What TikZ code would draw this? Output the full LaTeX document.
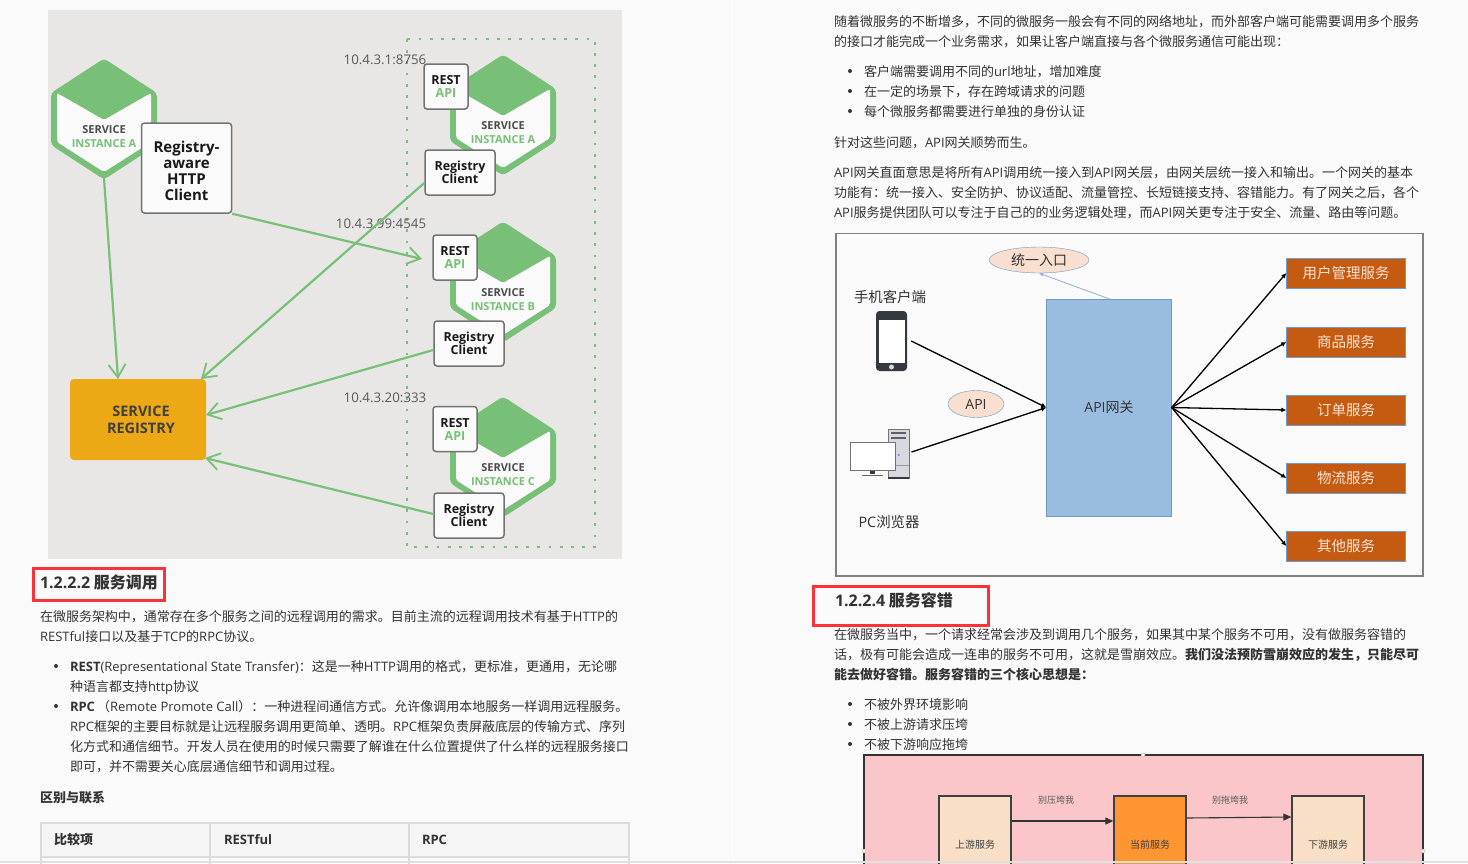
\documentclass[tikz,border=0pt]{standalone}
\usepackage{fontspec}
\setmainfont{Noto Sans CJK SC}
\newfontfamily\enfont{Open Sans}
\newcommand{\en}[1]{{\enfont #1}}
\usetikzlibrary{arrows.meta,calc,positioning,shapes.geometric}
\definecolor{pagebg}{HTML}{FAFAFA}
\definecolor{panelbg}{HTML}{E8E7E5}
\definecolor{hexgreen}{HTML}{78C077}
\definecolor{regorange}{HTML}{ECA815}
\definecolor{bodytext}{HTML}{333333}
\definecolor{gatefill}{HTML}{9ABCE0}
\definecolor{gateline}{HTML}{6F97C6}
\definecolor{bubblefill}{HTML}{F8DFCF}
\definecolor{svcfill}{HTML}{C55A11}
\definecolor{svcline}{HTML}{6B9BD2}
\definecolor{svctext}{HTML}{FBE5D6}
\definecolor{pinkbg}{HTML}{FAC6C9}
\definecolor{creamfill}{HTML}{F8DFC5}
\definecolor{curfill}{HTML}{FD9631}
\definecolor{redmark}{HTML}{FB3338}
\definecolor{tableline}{HTML}{D9DCDF}
\definecolor{phonedark}{HTML}{34383F}
\definecolor{towerfill}{HTML}{D6DADE}
\newcommand{\fs}[1]{\fontsize{#1}{#1}\selectfont}
\begin{document}
\begin{tikzpicture}[x=1pt,y=-1pt]
    \tikzstyle{textline} = [anchor=base west, inner sep=0pt, outer sep=0pt, text=bodytext, font=\fs{13}]
    \tikzstyle{bullet} = [circle, fill=bodytext, inner sep=0pt, minimum size=4pt]
    \tikzstyle{greenline} = [draw=hexgreen, line width=2.2pt, -{Straight Barb[length=13pt,width=17pt,line width=1.8pt]}]
    \tikzstyle{apibox} = [draw=black!55, line width=1.5pt, fill=pagebg, rounded corners=3pt, minimum width=44pt, minimum height=45pt, inner sep=0pt, align=center, font=\enfont\bfseries\fontsize{12.5}{13}\selectfont, text=black!90]
    \tikzstyle{clientbox} = [apibox, minimum width=70pt]
    \tikzstyle{hexlabel} = [inner sep=0pt, font=\enfont\bfseries\fs{11}, text=black!70]
    \tikzstyle{iplabel} = [inner sep=0pt, font=\enfont\fs{13.3}, text=black!65]
    \tikzstyle{bubble} = [ellipse, draw=gateline, fill=bubblefill, inner sep=0pt, text=bodytext, font=\fs{14}]
    \tikzstyle{svcbox} = [draw=svcline, fill=svcfill, minimum width=119pt, minimum height=30pt, inner sep=0pt, text=svctext, font=\fs{14.5}]
    \tikzstyle{blackline} = [draw=black, line width=1.3pt, -{Latex[length=5pt,width=5pt]}]
    \tikzstyle{flowbox} = [draw=black!75, line width=1.3pt, minimum width=72pt, minimum height=84pt, inner sep=0pt]
    \tikzstyle{flowline} = [draw=black!80, line width=1.1pt, -{Triangle[length=8pt,width=7pt]}]
    \tikzstyle{handle} = [circle, draw=orange!60!black!50, fill=pagebg, inner sep=0pt, minimum size=4pt]
    \tikzstyle{redbox} = [draw=redmark, line width=3pt]

    % hexagon: centre of the top corner, name, letter
    \def\drawHex#1#2#3#4{
        \begin{scope}[shift={(#1,#2)}]
            \fill[hexgreen, rounded corners=4pt] (0,-1.5) -- (53,33) -- (53,85) -- (0,119.5) -- (-53,85) -- (-53,33) -- cycle;
            \fill[pagebg, rounded corners=2pt] (-47,33) -- (0,60) -- (47,33) -- (47,82) -- (0,112) -- (-47,82) -- cycle;
            \node[hexlabel] (#3s) at (0,70) {SERVICE};
            \node[hexlabel, text=hexgreen] (#3i) at (0,84) {INSTANCE #4};
        \end{scope}
    }

    \useasboundingbox (0,0) rectangle (1468,863);
    \fill[pagebg] (0,0) rectangle (1468,863);
    \draw[white, line width=1pt] (732,0) -- (732,861);

    % left panel
    \fill[panelbg] (48,10) rectangle (622,559);
    \draw[hexgreen, line width=2.8pt, dash pattern=on 2.8pt off 8.4pt] (407,39) rectangle (595,547);

    \drawHex{104}{60}{hexL}{A}
    \drawHex{503}{56}{hexA}{A}
    \drawHex{503}{223}{hexB}{B}
    \drawHex{503}{398}{hexC}{C}
    \coordinate (hexLo) at (104,178);

    \node[apibox, minimum width=90pt, minimum height=90pt] (aware) at (186.5,168) {};
    \node[inner sep=0pt, align=center, text=black!90, font=\enfont\bfseries\fontsize{15}{16}\selectfont] (awarename) at (186.5,170.5) {Registry-\\aware\\HTTP\\Client};

    \node[apibox] (restA) at (446,86.5) {REST\\\textcolor{hexgreen}{API}};
    \node[apibox] (restB) at (455,257.5) {REST\\\textcolor{hexgreen}{API}};
    \node[apibox] (restC) at (455,429) {REST\\\textcolor{hexgreen}{API}};
    \node[clientbox] (clientA) at (460,172.5) {Registry\\Client};
    \node[clientbox] (clientB) at (469,343.5) {Registry\\Client};
    \node[clientbox] (clientC) at (469,515.5) {Registry\\Client};

    \node[fill=regorange, rounded corners=4pt, minimum width=136pt, minimum height=81pt, inner sep=0pt] (registry) at (138,419.5) {};
    \node[inner sep=0pt, align=center, text=black!75, font=\enfont\bfseries\fontsize{14.5}{17}\selectfont] (regname) at (141,420) {SERVICE\\REGISTRY};

    \node[iplabel] (ipA) at (385,60) {10.4.3.1:8756};
    \node[iplabel] (ipB) at (381,224) {10.4.3.99:4545};
    \node[iplabel] (ipC) at (385,398) {10.4.3.20:333};

    \coordinate (regTop) at (118,379);
    \coordinate (regCorner) at (201,379);
    \coordinate (regEast) at (206,415);
    \coordinate (regLow) at (205,458);
    \coordinate (restIn) at (422,259);
    \path[greenline] (hexLo) -- (regTop);
    \path[greenline] (aware.south east) -- (restIn);
    \path[greenline] (clientA.west |- 0,183) -- (regCorner);
    \path[greenline] (clientB.west |- 0,350) -- (regEast);
    \path[greenline] (clientC.west |- 0,514) -- (regLow);

    % left text
    \node[textline, font=\bfseries\fs{16}] (head1) at (40,588) {\en{1.2.2.2} 服务调用};
    \draw[redbox] (33.5,568.8) rectangle (164,600.2);
    \foreach \i/\y/\x/\t in {
        1/621/40/{在微服务架构中，通常存在多个服务之间的远程调用的需求。目前主流的远程调用技术有基于\en{HTTP}的},
        2/641/40/{\en{RESTful}接口以及基于\en{TCP}的\en{RPC}协议。},
        3/671/70/{{\bfseries\en{REST}}\en{(Representational State Transfer)}：这是一种\en{HTTP}调用的格式，更标准，更通用，无论哪},
        4/691/70/{种语言都支持\en{http}协议},
        5/711/70/{{\bfseries\en{RPC}}\hspace{2pt}（\en{Remote Promote Call}）：一种进程间通信方式。允许像调用本地服务一样调用远程服务。},
        6/731/70/{\en{RPC}框架的主要目标就是让远程服务调用更简单、透明。\en{RPC}框架负责屏蔽底层的传输方式、序列},
        7/751/70/{化方式和通信细节。开发人员在使用的时候只需要了解谁在什么位置提供了什么样的远程服务接口},
        8/771/70/{即可，并不需要关心底层通信细节和调用过程。},
        9/802/40/{\bfseries 区别与联系}
    } {
        \node[textline] (L\i) at (\x,\y) {\t};
    }
    \node[bullet] (bL1) at (56,666) {};
    \node[bullet] (bL2) at (56,706) {};

    \fill[black!4] (41,823) rectangle (629,857);
    \draw[tableline, line width=2pt] (41,870) -- (41,823) -- (629,823) -- (629,870)
        (41,857) -- (629,857) (210,823) -- (210,870) (409,823) -- (409,870);
    \node[textline, font=\bfseries\fs{13}] (th1) at (54,844) {比较项};
    \node[textline, font=\enfont\bfseries\fs{13}] (th2) at (224,844) {RESTful};
    \node[textline, font=\enfont\bfseries\fs{13}] (th3) at (422,844) {RPC};

    % right text
    \foreach \i/\y/\x/\t in {
        1/26/834/{随着微服务的不断增多，不同的微服务一般会有不同的网络地址，而外部客户端可能需要调用多个服务},
        2/46/834/{的接口才能完成一个业务需求，如果让客户端直接与各个微服务通信可能出现：},
        3/76/864/{客户端需要调用不同的\en{url}地址，增加难度},
        4/96/864/{在一定的场景下，存在跨域请求的问题},
        5/116/864/{每个微服务都需要进行单独的身份认证},
        6/147/834/{针对这些问题，\en{API}网关顺势而生。},
        7/177/834/{\en{API}网关直面意思是将所有\en{API}调用统一接入到\en{API}网关层，由网关层统一接入和输出。一个网关的基本},
        8/197/834/{功能有：统一接入、安全防护、协议适配、流量管控、长短链接支持、容错能力。有了网关之后，各个},
        9/217/834/{\en{API}服务提供团队可以专注于自己的的业务逻辑处理，而\en{API}网关更专注于安全、流量、路由等问题。},
        10/639/834/{在微服务当中，一个请求经常会涉及到调用几个服务，如果其中某个服务不可用，没有做服务容错的},
        11/659/834/{话，极有可能会造成一连串的服务不可用，这就是雪崩效应。{\bfseries 我们没法预防雪崩效应的发生，只能尽可}},
        12/679/834/{\bfseries 能去做好容错。服务容错的三个核心思想是：},
        13/709/864/{不被外界环境影响},
        14/729/864/{不被上游请求压垮},
        15/749/864/{不被下游响应拖垮}
    } {
        \node[textline] (R\i) at (\x,\y) {\t};
    }
    \foreach \i/\y in {1/71,2/91,3/111,4/704,5/724,6/744} {
        \node[bullet] (bR\i) at (850,\y) {};
    }

    % gateway picture
    \draw[black!50, line width=1.8pt] (836,233.5) rectangle (1423,576);
    \node[draw=gateline, fill=gatefill, minimum width=125pt, minimum height=217pt, inner sep=0pt, text=bodytext, font=\fs{14}] (gate) at (1109,407.5) {\en{API}网关};
    \node[bubble, minimum width=100pt, minimum height=26pt] (entry) at (1039,260) {统一入口};
    \node[bubble, minimum width=56pt, minimum height=27pt] (apilabel) at (976,404) {\en{API}};
    \path[draw=svcline!80!white, line width=0.8pt, -{Latex[length=4pt,width=4pt]}] (gate.north) -- (entry.south);

    \node[inner sep=0pt, text=bodytext, font=\fs{14.4}] (mobile) at (890,297) {手机客户端};
    \node[inner sep=0pt, text=bodytext, font=\fs{14.4}] (browser) at (889,522) {\en{PC}浏览器};

    \node[fill=phonedark, rounded corners=3.5pt, minimum width=31pt, minimum height=60pt, inner sep=0pt] (phone) at (891.5,341) {};
    \node[fill=white, minimum width=26pt, minimum height=43pt, inner sep=0pt] (screen) at (891.5,341.5) {};
    \node[circle, fill=white!85!black, inner sep=0pt, minimum size=5pt] (homekey) at (891.5,367) {};

    \node[draw=black!55, line width=1pt, fill=towerfill, minimum width=21pt, minimum height=49pt, inner sep=0pt] (tower) at (898.5,454) {};
    \draw[phonedark!80, line width=1.2pt] (891,433) -- (906,433) (891,438) -- (906,438);
    \draw[black!40, line width=0.8pt] (888,465) -- (909,465);
    \draw[phonedark, line width=2pt] (888,478) -- (909,478);
    \node[circle, fill=blue!60, inner sep=0pt, minimum size=2pt] (ledpc) at (898.5,455) {};
    \fill[phonedark] (870,470) rectangle (875,474);
    \draw[black!60, line width=1pt] (862,475) -- (883,475);
    \node[draw=black!55, line width=1pt, fill=white, minimum width=45pt, minimum height=28pt, inner sep=0pt] (monitor) at (872.5,456) {};

    \path[blackline] ([xshift=4pt]phone.east) -- (gate.west);
    \path[blackline] ([xshift=2pt,yshift=2pt]tower.east) -- (gate.west);

    \foreach \n/\y/\t in {1/273/用户管理服务,2/342/商品服务,3/410/订单服务,4/478/物流服务,5/546/其他服务} {
        \node[svcbox] (svc\n) at (1346,\y) {\t};
        \path[blackline] (gate.east) -- (svc\n.west);
    }

    % fault tolerance part
    \node[textline, font=\bfseries\fs{16}] (head2) at (835,606) {\en{1.2.2.4} 服务容错};
    \draw[redbox] (813.5,586.5) rectangle (988,625.5);

    \draw[black!80, line width=1.3pt, fill=pinkbg] (864,755) rectangle (1423,880);
    \node[flowbox, fill=creamfill] (upstream) at (975,838) {};
    \node[flowbox, fill=curfill] (current) at (1150,838) {};
    \node[flowbox, fill=creamfill] (downstream) at (1328,838) {};
    \node[inner sep=0pt, text=black!75, font=\fs{10}] (upname) at (975,845) {上游服务};
    \node[inner sep=0pt, text=black!75, font=\fs{10}] (curname) at (1150,845) {当前服务};
    \node[inner sep=0pt, text=black!75, font=\fs{10}] (downname) at (1328,845) {下游服务};
    \path[flowline] (upstream.east |- 0,821) -- (current.west |- 0,821);
    \path[flowline] (current.east |- 0,818) -- (downstream.west |- 0,817);
    \node[inner sep=0pt, text=black!65, font=\fs{9}] (noCrush) at (1056,800) {别压垮我};
    \node[inner sep=0pt, text=black!65, font=\fs{9}] (noDrag) at (1230,800) {别拖垮我};
    \node[handle] (h1) at (1143,755) {};
    \node[handle] (h2) at (864,851) {};
    \node[handle] (h3) at (1423,851) {};

    \fill[black!12] (0,861) rectangle (1468,863);
\end{tikzpicture}
\end{document}
